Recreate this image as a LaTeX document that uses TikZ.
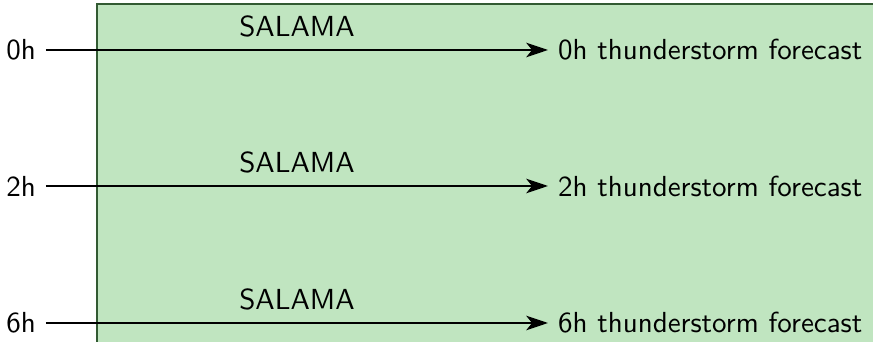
\documentclass[tikz,border=0pt]{standalone}
\usetikzlibrary{arrows.meta}
\definecolor{panelfill}{RGB}{192,229,192}
\definecolor{panelline}{RGB}{50,90,50}
\begin{document}
\begin{tikzpicture}[x=0.3448pt,y=-0.3448pt,
  font=\sffamily,
  lead/.style={inner sep=3.33pt},
  flow/.style={line width=0.8pt,-{Stealth[length=7.5pt,width=5pt,inset=2pt]}},
  panel/.style={fill=panelfill,draw=panelline,line width=0.6pt}]
  \useasboundingbox (0,0) rectangle (873,342);
  \clip (0,0) rectangle (873,342);
  % shaded processing area
  \draw[panel] (97,4) rectangle (900,370);
  % lead times, model and products
  \foreach \t/\y in {0/50,2/186,6/323}{
    \node[lead] (in\t) at (21,\y) {\t h};
    \node[lead,anchor=west] (out\t) at (548,\y) {\t h thunderstorm forecast};
    \draw[flow] (in\t) -- node[above,inner sep=4pt] {SALAMA} (out\t);
  }
\end{tikzpicture}
\end{document}
